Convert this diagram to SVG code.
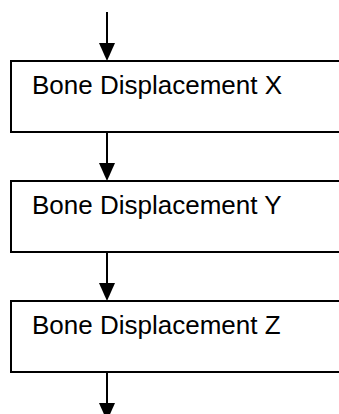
<svg xmlns="http://www.w3.org/2000/svg" width="339" height="414" viewBox="0 0 339 414">
<defs>
<style>
.box{fill:#fff;stroke:#000;stroke-width:2}
.lbl{font-family:"Liberation Sans",Arial,sans-serif;font-size:26px;fill:#000}
.con{stroke:#000;stroke-width:2;fill:none}
.head{fill:#000}
</style>
</defs>
<rect width="339" height="414" fill="#fff"/>
<g id="connectors">
<line class="con" x1="107" y1="12" x2="107" y2="45"/>
<polygon class="head" points="99,43 115,43 107,61"/>
<line class="con" x1="107" y1="132" x2="107" y2="165"/>
<polygon class="head" points="99,163 115,163 107,181"/>
<line class="con" x1="107" y1="252" x2="107" y2="285"/>
<polygon class="head" points="99,283 115,283 107,301"/>
<line class="con" x1="107" y1="372" x2="107" y2="405"/>
<polygon class="head" points="99,403 115,403 107,421"/>
</g>
<g id="nodeX">
<rect class="box" x="11" y="61" width="340" height="71"/>
<text class="lbl" x="32" y="94">Bone Displacement X</text>
</g>
<g id="nodeY">
<rect class="box" x="11" y="181" width="340" height="71"/>
<text class="lbl" x="32" y="214">Bone Displacement Y</text>
</g>
<g id="nodeZ">
<rect class="box" x="11" y="301" width="340" height="71"/>
<text class="lbl" x="32" y="334">Bone Displacement Z</text>
</g>
</svg>
